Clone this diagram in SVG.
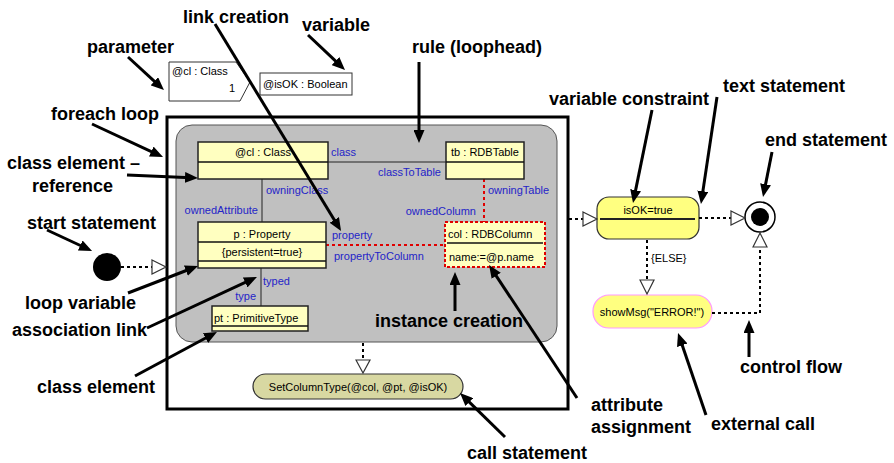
<svg xmlns="http://www.w3.org/2000/svg" width="894" height="463" viewBox="0 0 894 463">
  <style>
    .note { font-family: "Liberation Sans", Arial, sans-serif; font-size: 18px; font-weight: bold; fill: #000; }
    .t { font-family: "Liberation Sans", Arial, sans-serif; font-size: 11px; fill: #000; }
    .role { font-family: "Liberation Sans", Arial, sans-serif; font-size: 11px; fill: #2424c8; }
    .box { fill: #ffffc0; stroke: #222; stroke-width: 1.5; }
    .div { stroke: #111; stroke-width: 1.5; }
    .assoc { stroke: #222; stroke-width: 1; fill: none; }
    .red { stroke: #e00000; stroke-width: 2; stroke-dasharray: 3 3; fill: none; }
    .flow { stroke: #000; stroke-width: 2; stroke-dasharray: 3 3; fill: none; }
    .head { fill: #fff; stroke: #333; stroke-width: 1.2; }
    .ann { stroke: #000; stroke-width: 3; fill: none; marker-end: url(#arrow); }
  </style>
  <defs>
    <marker id="arrow" viewBox="0 0 13 11" refX="6" refY="5.5" markerWidth="13" markerHeight="11" markerUnits="userSpaceOnUse" orient="auto">
      <path d="M0,0 L13,5.5 L0,11 z" fill="#000"/>
    </marker>
  </defs>

  <rect width="894" height="463" fill="#fff"/>

  <!-- foreach loop frame -->
  <g id="foreach-loop">
    <rect x="167" y="117" width="401" height="292" fill="#fff" stroke="#000" stroke-width="3"/>
  </g>

  <!-- story pattern (rule) -->
  <g id="rule">
    <rect x="176" y="125" width="381" height="217" rx="16" fill="#c0c0c0" stroke="#555" stroke-width="1"/>
  </g>

  <!-- parameter and variable -->
  <g id="parameter">
    <polygon points="169,62 236,62 250,82 240,101 169,101" fill="#fff" stroke="#333" stroke-width="1"/>
    <text class="t" x="172" y="75">@cl : Class</text>
    <text class="t" x="229" y="92">1</text>
  </g>
  <g id="variable">
    <rect x="260" y="73" width="92" height="22" fill="#fff" stroke="#333" stroke-width="1"/>
    <text class="t" x="263" y="88">@isOK : Boolean</text>
  </g>

  <!-- links inside the rule -->
  <g id="links">
    <line class="assoc" x1="328" y1="162" x2="446" y2="162" stroke="#000"/>
    <line class="assoc" x1="262" y1="179" x2="262" y2="222"/>
    <line class="assoc" x1="261" y1="268" x2="261" y2="306"/>
    <line class="red" x1="326" y1="245" x2="445" y2="245"/>
    <line class="red" x1="484" y1="179" x2="484" y2="222"/>
    <text class="role" x="331" y="156">class</text>
    <text class="role" x="441" y="176" text-anchor="end">classToTable</text>
    <text class="role" x="266" y="194">owningClass</text>
    <text class="role" x="258" y="214" text-anchor="end">ownedAttribute</text>
    <text class="role" x="488" y="194">owningTable</text>
    <text class="role" x="476" y="215" text-anchor="end">ownedColumn</text>
    <text class="role" x="332" y="239">property</text>
    <text class="role" x="334" y="260">propertyToColumn</text>
    <text class="role" x="263" y="285">typed</text>
    <text class="role" x="256" y="300" text-anchor="end">type</text>
  </g>

  <!-- objects -->
  <g id="obj-cl">
    <rect class="box" x="198" y="142" width="130" height="37"/>
    <line class="div" x1="198" y1="162" x2="328" y2="162"/>
    <text class="t" x="263" y="156" text-anchor="middle">@cl : Class</text>
  </g>
  <g id="obj-tb">
    <rect class="box" x="446" y="142" width="78" height="37"/>
    <line class="div" x1="446" y1="162" x2="524" y2="162"/>
    <text class="t" x="485" y="156" text-anchor="middle">tb : RDBTable</text>
  </g>
  <g id="obj-p">
    <rect class="box" x="198" y="222" width="128" height="46" stroke-width="3"/>
    <line class="div" x1="198" y1="242" x2="326" y2="242"/>
    <line class="div" x1="198" y1="261" x2="326" y2="261"/>
    <text class="t" x="262" y="238" text-anchor="middle">p : Property</text>
    <text class="t" x="262" y="256" text-anchor="middle">{persistent=true}</text>
  </g>
  <g id="obj-pt">
    <rect class="box" x="212" y="306" width="96" height="25"/>
    <line class="div" x1="212" y1="326" x2="308" y2="326"/>
    <text class="t" x="214" y="322">pt : PrimitiveType</text>
  </g>
  <g id="obj-col">
    <rect x="445" y="222" width="100" height="45" fill="#ffffc0" stroke="#e00000" stroke-width="2" stroke-dasharray="3 2"/>
    <line class="div" x1="447" y1="243" x2="543" y2="243"/>
    <text class="t" x="448" y="238">col : RDBColumn</text>
    <text class="t" x="449" y="261">name:=@p.name</text>
  </g>

  <!-- activities -->
  <g id="start">
    <circle cx="107" cy="267" r="14" fill="#000"/>
  </g>
  <g id="call">
    <rect x="253" y="374" width="210" height="25" rx="12.5" fill="#d8d8a2" stroke="#333" stroke-width="1.2"/>
    <text class="t" x="358" y="391" text-anchor="middle" font-size="10.5">SetColumnType(@col, @pt, @isOK)</text>
  </g>
  <g id="check">
    <rect x="597" y="197" width="102" height="42" rx="12" fill="#ffff80" stroke="#333" stroke-width="1.2"/>
    <line x1="600" y1="219" x2="695" y2="219" stroke="#222" stroke-width="2"/>
    <text class="t" x="648" y="214" text-anchor="middle">isOK=true</text>
  </g>
  <g id="show-msg">
    <rect x="593" y="295" width="119" height="33" rx="16" fill="#ffff80" stroke="#ff99ff" stroke-width="1.2"/>
    <text class="t" x="652" y="316" text-anchor="middle">showMsg("ERROR!")</text>
  </g>
  <g id="end">
    <circle cx="760" cy="217" r="15" fill="#fff" stroke="#000" stroke-width="1.5"/>
    <circle cx="760" cy="217" r="9" fill="#000"/>
  </g>

  <!-- control flow -->
  <g id="flows">
    <line class="flow" x1="121" y1="267" x2="152" y2="267"/>
    <polygon class="head" points="152,260 166,267 152,274"/>
    <line class="flow" x1="363" y1="343" x2="363" y2="360"/>
    <polygon class="head" points="356,360 363,373 370,360"/>
    <line class="flow" x1="569" y1="219" x2="583" y2="219"/>
    <polygon class="head" points="583,212 597,219 583,226"/>
    <line class="flow" x1="699" y1="218" x2="731" y2="218"/>
    <polygon class="head" points="731,211 745,218 731,225"/>
    <line class="flow" x1="647" y1="240" x2="647" y2="280"/>
    <polygon class="head" points="640,280 647,294 654,280"/>
    <text class="t" x="651" y="262" font-size="12" fill="#222">{ELSE}</text>
    <polyline class="flow" points="712,313 760,313 760,247"/>
    <polygon class="head" points="753,247 760,233 767,247"/>
  </g>

  <!-- annotations -->
  <g id="annotations">
    <text class="note" x="183" y="23">link creation</text>
    <text class="note" x="302" y="31">variable</text>
    <text class="note" x="87" y="53">parameter</text>
    <text class="note" x="412" y="53">rule (loophead)</text>
    <text class="note" x="51" y="120">foreach loop</text>
    <text class="note" x="7" y="169">class element –</text>
    <text class="note" x="32" y="192">reference</text>
    <text class="note" x="27" y="229">start statement</text>
    <text class="note" x="25" y="309">loop variable</text>
    <text class="note" x="12" y="336">association link</text>
    <text class="note" x="37" y="393">class element</text>
    <text class="note" x="375" y="327">instance creation</text>
    <text class="note" x="549" y="105">variable constraint</text>
    <text class="note" x="723" y="92">text statement</text>
    <text class="note" x="765" y="146">end statement</text>
    <text class="note" x="740" y="373">control flow</text>
    <text class="note" x="591" y="411">attribute</text>
    <text class="note" x="591" y="433">assignment</text>
    <text class="note" x="711" y="430">external call</text>
    <text class="note" x="467" y="459">call statement</text>

    <line class="ann" x1="128" y1="57" x2="158.8" y2="85.3"/>
    <line class="ann" x1="308" y1="35" x2="339.9" y2="65.2"/>
    <line class="ann" x1="215" y1="24" x2="337.4" y2="225"/>
    <line class="ann" x1="419" y1="62" x2="419" y2="136"/>
    <line class="ann" x1="92" y1="124" x2="156.7" y2="154.1"/>
    <line class="ann" x1="127" y1="175" x2="191" y2="177.7"/>
    <line class="ann" x1="47" y1="230" x2="85.7" y2="248"/>
    <line class="ann" x1="128" y1="293" x2="191.5" y2="268.5"/>
    <line class="ann" x1="147" y1="328" x2="250.6" y2="279.9"/>
    <line class="ann" x1="135" y1="376" x2="210.8" y2="335.3"/>
    <line class="ann" x1="455" y1="311" x2="455" y2="279"/>
    <line class="ann" x1="577" y1="398" x2="492.9" y2="270.8"/>
    <line class="ann" x1="505" y1="437" x2="465" y2="397.9"/>
    <line class="ann" x1="652" y1="110" x2="634.4" y2="196.1"/>
    <line class="ann" x1="717" y1="97" x2="702" y2="197.1"/>
    <line class="ann" x1="772" y1="152" x2="764.4" y2="190.1"/>
    <line class="ann" x1="749" y1="357" x2="749" y2="327"/>
    <line class="ann" x1="706" y1="415" x2="680.3" y2="339.6"/>
  </g>
</svg>
